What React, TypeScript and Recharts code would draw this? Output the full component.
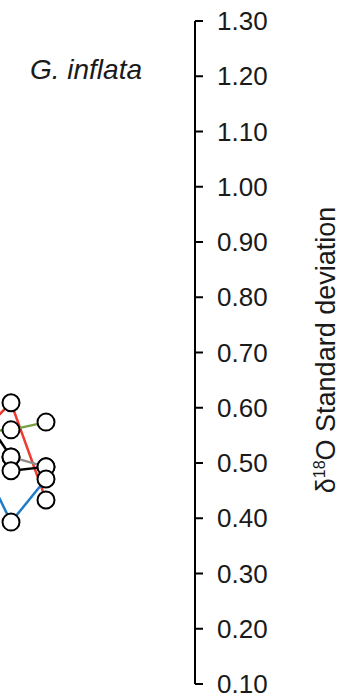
import { LineChart, Line, XAxis, YAxis } from "recharts"

// x positions of the sample columns (column 0 lies just off the left edge)
const xs = [0, 1, 2]

const red = [0.545, 0.609, 0.433]
const green = [0.556, 0.56, 0.574]
const blackA = [0.605, 0.511, null]
const grey = [null, 0.511, 0.493]
const blackB = [null, 0.486, 0.493]
const blue = [0.524, 0.393, 0.471]

const yTicks = [0.1, 0.2, 0.3, 0.4, 0.5, 0.6, 0.7, 0.8, 0.9, 1.0, 1.1, 1.2, 1.3]

const series = [
  { key: "red", values: red, color: "#ee3a2f" },
  { key: "green", values: green, color: "#77a043" },
  { key: "blackA", values: blackA, color: "#000000" },
  { key: "grey", values: grey, color: "#8c8c8c" },
  { key: "blackB", values: blackB, color: "#000000" },
  { key: "blue", values: blue, color: "#1f7dc7" },
]

const data = xs.map((x, i) => {
  const row: Record<string, number | null> = { x }
  series.forEach((s) => {
    row[s.key] = s.values[i]
  })
  return row
})

const font = "'Liberation Sans', Arial, sans-serif"

export default function App() {
  return (
    <div style={{ position: "absolute", left: 0, top: 0, width: 353, height: 696, overflow: "hidden", background: "#fff" }}>
      <div style={{ position: "absolute", left: -80, top: 0 }}>
        <LineChart width={433} height={696} data={data} margin={{ top: 21, right: 0, bottom: 12, left: 0 }}>
          <XAxis dataKey="x" type="number" domain={[-1.6, 6.257]} hide />
          <YAxis
            orientation="right"
            width={158}
            domain={[0.1, 1.3]}
            ticks={yTicks}
            interval={0}
            tickFormatter={(v: number) => v.toFixed(2)}
            tick={{ fill: "#1a1a1a", fontSize: 26, fontFamily: font }}
            tickSize={8}
            tickMargin={14}
            axisLine={{ stroke: "#000", strokeWidth: 2 }}
            tickLine={{ stroke: "#000", strokeWidth: 2 }}
          />
          {series.map((s) => (
            <Line
              key={s.key}
              dataKey={s.key}
              stroke={s.color}
              strokeWidth={2.5}
              dot={false}
              activeDot={false}
              isAnimationActive={false}
            />
          ))}
          {series.map((s) => (
            <Line
              key={s.key + "-dots"}
              dataKey={s.key}
              stroke="none"
              dot={{ r: 8.5, fill: "#fff", stroke: "#000", strokeWidth: 2 }}
              activeDot={false}
              legendType="none"
              isAnimationActive={false}
            />
          ))}
        </LineChart>
      </div>
      <div
        style={{
          position: "absolute",
          right: 211,
          top: 54,
          fontFamily: font,
          fontStyle: "italic",
          fontSize: 28,
          color: "#1a1a1a",
          whiteSpace: "nowrap",
        }}
      >
        G. inflata
      </div>
      <div
        style={{
          position: "absolute",
          left: 326,
          top: 350,
          transform: "translate(-50%, -50%) rotate(-90deg)",
          fontFamily: font,
          fontSize: 27,
          color: "#1a1a1a",
          whiteSpace: "nowrap",
        }}
      >
        δ<sup style={{ fontSize: 16 }}>18</sup>O Standard deviation
      </div>
    </div>
  )
}
